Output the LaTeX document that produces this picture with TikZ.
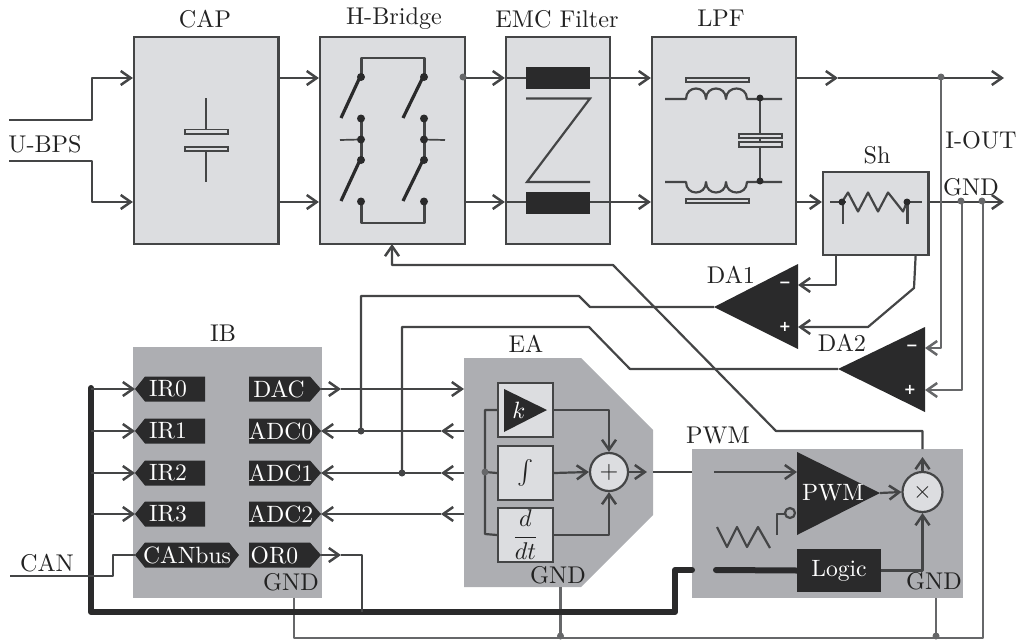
\documentclass[tikz,border=0pt]{standalone}
\usepackage{fontspec}
\newfontfamily\sgnfont{DejaVu Sans}
\usetikzlibrary{arrows.meta,calc}
\definecolor{wirec}{HTML}{444546}
\definecolor{greyc}{HTML}{666769}
\definecolor{lightc}{HTML}{DCDDE0}
\definecolor{midc}{HTML}{ADAEB2}
\definecolor{darkc}{HTML}{2A2A2B}
\definecolor{textc}{HTML}{222222}
\tikzset{
  wire/.style={draw=wirec,line width=2.2pt,line join=round},
  gwire/.style={draw=greyc,line width=2.2pt,line join=round},
  thin wire/.style={draw=wirec,line width=1.7pt,line join=round},
  arr/.style={-{Straight Barb[length=10pt,width=14pt,line width=2.5pt]}},
  bus/.style={draw=darkc,line width=6pt,line join=round,line cap=round},
  lbox/.style={draw=wirec,line width=2.2pt,fill=lightc,inner sep=0pt,rectangle},
  mbox/.style={fill=midc,inner sep=0pt,rectangle},
  blk/.style={fill=darkc,inner sep=0pt,rectangle},
  plate/.style={draw=wirec,line width=1.8pt,fill=lightc,inner sep=0pt,rectangle},
  lab/.style={text=textc,inner sep=0pt,scale=2.42},
  wlab/.style={text=white,inner sep=0pt,scale=2.36},
  sgn/.style={text=white,inner sep=0pt,font=\sgnfont\bfseries,scale=1.45},
  circ/.style={circle,draw=wirec,line width=2.2pt,fill=lightc,minimum size=38pt,inner sep=0pt},
}
\newcommand{\mybox}[6]{\node[#1,minimum width=#4pt-#3pt,minimum height=#6pt-#5pt] (#2) at ({(#3+#4)/2},{(#5+#6)/2}) {};}
\newcommand{\dotat}[1]{\fill[wirec] (#1) circle (3.5);}
\newcommand{\tagR}[5]{% name x1 y text textcentre: points right
  \fill[darkc] (#2,#3-12.5) -- (#2+61,#3-12.5) -- (#2+72,#3) -- (#2+61,#3+12.5) -- (#2,#3+12.5) -- cycle;
  \coordinate (#1) at (#2+72,#3);
  \node[wlab] (#1txt) at (#5,#3) {#4};}
\newcommand{\tagL}[5]{% name x1 y text textcentre: points left
  \fill[darkc] (#2+70,#3-12.5) -- (#2+10,#3-12.5) -- (#2,#3) -- (#2+10,#3+12.5) -- (#2+70,#3+12.5) -- cycle;
  \coordinate (#1) at (#2,#3);
  \node[wlab] (#1txt) at (#5,#3) {#4};}
\begin{document}
\begin{tikzpicture}[x=1pt,y=-1pt]
\useasboundingbox (0,0) rectangle (1023,640);
% coordinates of the power rails
\coordinate (T) at (0,78); \coordinate (B) at (0,202);
% ---- boxes
\mybox{lbox}{cap}{134}{278.5}{37}{244}
\mybox{lbox}{hb}{320}{465}{37}{244}
\mybox{lbox}{emc}{506}{610}{37}{244}
\mybox{lbox}{lpf}{652}{796}{37}{244}
\mybox{lbox}{sh}{823}{928.5}{172}{255}
\mybox{mbox}{ib}{133}{321.5}{347}{598}
\mybox{mbox}{pwm}{692}{963}{449}{598}
\fill[midc] (464,358) -- (581,358) -- (653,430) -- (653,515) -- (581,587) -- (464,587) -- cycle;
\coordinate (eaW) at (464,472); \coordinate (eaE) at (653,472); \coordinate (eaS) at (560.5,587);
% ---- titles
\node[lab] (tCAP) at (205,19) {CAP};
\node[lab] (tHB) at (394,19) {H-Bridge};
\node[lab] (tEMC) at (557,19) {EMC Filter};
\node[lab] (tLPF) at (721,18) {LPF};
\node[lab] (tUBPS) at (45,144) {U-BPS};
\node[lab] (tIOUT) at (981,140) {I-OUT};
\node[lab] (tGND) at (971,187) {GND};
\node[lab] (tSh) at (877,155) {Sh};
\node[lab] (tDA1) at (731,275) {DA1};
\node[lab] (tDA2) at (842,343) {DA2};
\node[lab] (tIB) at (223,333) {IB};
\node[lab] (tEA) at (526,344) {EA};
\node[lab] (tPWM) at (718,435) {PWM};
\node[lab] (tCAN) at (47,563) {CAN};
\node[lab] (gIB) at (291,582) {GND};
\node[lab] (gEA) at (558,575) {GND};
\node[lab] (gPWM) at (934,581) {GND};
% ---- input wires
\coordinate (uA) at (9,120); \coordinate (uB) at (9,161);
\draw[wire,arr] (uA) -- (92,120) -- (92,78) -- (cap.west |- T);
\draw[wire,arr] (uB) -- (92,161) -- (92,202) -- (cap.west |- B);
\draw[wire,arr] (cap.east |- T) -- (hb.west |- T);
\draw[wire,arr] (cap.east |- B) -- (hb.west |- B);
\draw[wire,arr] (hb.east |- T) -- (emc.west |- T);
\draw[wire,arr] (hb.east |- B) -- (emc.west |- B);
\fill[greyc] (463,77) circle (3.5);
\draw[wire,arr] (emc.west |- T) -- (lpf.west |- T);
\draw[wire,arr] (emc.west |- B) -- (lpf.west |- B);
\coordinate (m1) at (838,78); \coordinate (endT) at (1004,78); \coordinate (endB) at (1004,202);
\draw[wire,arr] (lpf.east |- T) -- (m1);
\draw[wire,arr] (m1) -- (endT);
\draw[wire,arr] (lpf.east |- B) -- (sh.west |- B);
\draw[wire,arr] (sh.east |- B) -- (endB);
% ---- CAP symbol
\draw[wire] (206,98) -- (206,130); \draw[wire] (206,150) -- (206,182);
\mybox{plate}{capa}{185}{228}{129.5}{134}
\mybox{plate}{capb}{185}{228}{147}{151}
% ---- H bridge
\coordinate (h1) at (360,77); \coordinate (h2) at (423,77);
\coordinate (h3) at (360,118.5); \coordinate (h4) at (423,118.5);
\coordinate (h5) at (360,139.5); \coordinate (h6) at (423,139.5);
\coordinate (h7) at (360,160); \coordinate (h8) at (423,160);
\coordinate (h9) at (360,201.5); \coordinate (h10) at (423,201.5);
\draw[thin wire,line width=2.2pt] (361.5,77) -- (361.5,58) -- (424.5,58) -- (424.5,77);
\draw[thin wire,line width=2.2pt] (361.5,201.5) -- (361.5,223) -- (424.5,223) -- (424.5,201.5);
\draw[thin wire,line width=2.6pt] (361.5,118.5) -- (361.5,160);
\draw[thin wire,line width=2.6pt] (424.5,118.5) -- (424.5,160);
\draw[draw=darkc,line width=3.2pt] (h1) -- (341,118);
\draw[draw=darkc,line width=3.2pt] (h2) -- (403,118);
\draw[draw=darkc,line width=3.2pt] (h7) -- (341,201);
\draw[draw=darkc,line width=3.2pt] (h8) -- (403,201);
\draw[thin wire] (340,140) -- (h5);
\draw[thin wire] (h6) -- (445,140);
\foreach \c in {h1,h2,h3,h4,h5,h6,h7,h8,h9,h10}{\fill[darkc] ($(\c)+(1,0)$) circle (4);}
% ---- EMC
\mybox{blk}{emcA}{526}{590}{67}{89}
\mybox{blk}{emcB}{526}{590}{192}{214}
\draw[wire,line join=miter] (526,98.5) -- (590,98.5) -- (527,182) -- (590,182);
% ---- LPF
\mybox{plate}{lpA}{686}{749}{78}{82}
\mybox{plate}{lpB}{686}{749}{199}{203}
\draw[wire] (665,99) -- (686,99)
  .. controls (686,85) and (706,85) .. (706,99)
  .. controls (706,85) and (726,85) .. (726,99)
  .. controls (726,85) and (747,85) .. (747,99) -- (782,99);
\draw[wire] (665,182) -- (686,182)
  .. controls (686,196) and (706,196) .. (706,182)
  .. controls (706,196) and (726,196) .. (726,182)
  .. controls (726,196) and (747,196) .. (747,182) -- (782,182);
\draw[wire] (760,98) -- (760,182);
\mybox{plate}{lpC}{739}{782}{134}{138}
\mybox{plate}{lpD}{739}{782}{142}{147}
\fill[darkc] (760,98) circle (3.5); \fill[darkc] (760,181) circle (3.5);
% ---- Shunt
\draw[wire,line width=1.8pt] (830,202) -- (922,202);
\fill[lightc] (846,190) rectangle (905,214);
\draw[wire] (842,202) -- (848,192.5) -- (858,211.5) -- (868,192.5) -- (878,211.5) -- (888,192.5) -- (903,211.5) -- (907,202);
\draw[wire] (843,202) -- (843,224); \draw[wire] (907.5,202) -- (907.5,224);
\fill[darkc] (842,202) circle (3.5); \fill[darkc] (907,202) circle (3.5);
% ---- Amplifiers
\coordinate (da1tip) at (714,307); \coordinate (da1m) at (798,285); \coordinate (da1p) at (798,327);
\coordinate (da2tip) at (838,369); \coordinate (da2m) at (925,348); \coordinate (da2p) at (925,390);
\fill[darkc] (da1tip) -- (798,264) -- (798,349) -- cycle;
\fill[darkc] (da2tip) -- (925,327) -- (925,412) -- cycle;
\node[sgn] (d1m) at (785,285) {−};
\node[sgn] (d1p) at (785,327) {+};
\node[sgn] (d2m) at (912,348) {−};
\node[sgn] (d2p) at (910,390) {+};
\draw[wire,arr] ($(sh.south west)+(14,0)$) |- (da1m);
\draw[wire,arr] ($(sh.south east)+(-14,0)$) -- (914,288) -- (868,327) -- (da1p);
\draw[wire] (da1tip) -- (590,307) -- (579,296) -- (361,296) -- (361,431);
\draw[wire] (da2tip) -- (630,369) -- (589,327) -- (402,327) -- (402,473);
\draw[gwire,arr] (941,78) -- (941,348) -- (da2m);
\draw[gwire,arr] (962,202) -- (962,390) -- (da2p);
\draw[gwire] (983,202) -- (983,638) -- (294,638) -- (294,598);
\draw[gwire] (eaS) -- (560.5,638);
\draw[gwire] (936,598) -- (936,638);
\fill[greyc] (941,77) circle (3.5); \fill[greyc] (961,201) circle (3.5); \fill[greyc] (982,201) circle (3.5);
\fill[greyc] (560.5,636) circle (3.5); \fill[greyc] (936,636) circle (3.5);
% ---- IB tags
\tagL{irA}{135}{389}{IR0}{168}
\tagL{irB}{135}{431}{IR1}{168}
\tagL{irC}{135}{473}{IR2}{168}
\tagL{irD}{135}{514}{IR3}{168}
\tagR{dac}{249}{389}{DAC}{279}
\tagR{adA}{249}{431}{ADC0}{281}
\tagR{adB}{249}{473}{ADC1}{281}
\tagR{adC}{249}{514}{ADC2}{281}
\tagR{orz}{249}{555}{OR0}{274.5}
\fill[darkc] (135,555) -- (145,542.5) -- (229,542.5) -- (239,555) -- (229,567.5) -- (145,567.5) -- cycle;
\coordinate (canT) at (135,555);
\node[wlab] (canbus) at (187,555) {CANbus};
% ---- bus and IB wires
\coordinate (bt) at (91,388); \coordinate (bc) at (91,612);
\draw[bus] (bt) -- (bc) -- (675,612) -- (675,570) -- (692,570);
\foreach \c/\y in {irA/389,irB/431,irC/473,irD/514}{\draw[wire,arr] (91,\y) -- (\c);}
\coordinate (canL) at (10,576);
\draw[wire] (canL) -- (113,576) -- (113,555) -- (canT);
\coordinate (dm) at (341,389); \coordinate (om) at (341,555);
\draw[wire,arr] (dac) -- (dm);
\draw[wire,arr] (dm) -- (eaW |- dm);
\draw[wire,arr] (orz) -- (om);
\draw[wire] (om) -- (362,555) -- (362,612);
\foreach \c/\y in {adA/431,adB/473,adC/514}{
  \draw[wire,arr] (464,\y) -- (441,\y);
  \draw[wire,arr] (441,\y) -- (\c);
}
\dotat{361,431} \dotat{402,473}
% ---- EA inner
\mybox{lbox}{kb}{498}{553}{383}{437}
\mybox{lbox}{ib2}{498}{553}{446}{500}
\mybox{lbox}{db}{498}{553}{508}{562}
\node[circ] (plus) at (609,472) {};
\node[lab] (plustxt) at (609,472) {$+$};
\fill[darkc] (504,389) -- (547,410) -- (504,432) -- cycle;
\node[wlab] (ktxt) at (519,410) {$k$};
\node[lab] (itxt) at (525.5,473) {$\int$};
\node[lab] (dtxt) at (525.5,535) {$\displaystyle\frac{d}{dt}$};
\draw[wire] (kb.west) -- (485,410) -- (485,534) -- (db.west);
\draw[wire] (485,472) -- (ib2.west);
\fill[greyc] (485,472) circle (3.5);
\draw[wire,arr] (ib2.east) -- (plus.west);
\draw[wire,arr] (kb.east) -| (plus.north);
\draw[wire,arr] (db.east) -| (plus.south);
\coordinate (pout) at (647,472);
\draw[wire,arr] (plus.east) -- (pout);
\draw[wire] (eaE) -- (pwm.west |- eaE);
% ---- PWM inner
\fill[darkc] (797,452) -- (880,493) -- (797,535) -- cycle;
\coordinate (ptip) at (880,493); \coordinate (pin) at (797,472); \coordinate (pst) at (714,472);
\node[wlab] (ptxt) at (833,493) {PWM};
\node[blk,minimum width=84pt,minimum height=43pt] (logic) at (839,570.5) {};
\node[wlab] (logictxt) at (839,570.5) {Logic};
\node[circ,minimum size=40pt] (mul) at (922.5,492) {};
\node[lab] (multxt) at (922.5,492) {$\times$};
\draw[wire,arr] (pst) -- (pin);
\draw[wire,arr] (ptip) -- (mul.west);
\draw[wire,arr] (logic.east) -| (mul.south);
\coordinate (mtop) at (922.5,457);
\draw[wire,arr] (mul.north) -- (mtop);
\coordinate (hbin) at (392,244);
\draw[wire,arr] (922.5,449) -- (922.5,431) -- (776,431) -- (613,265) -- (392,265) -- (hbin);
\coordinate (lgst) at (716,570);
\draw[bus] (lgst) -- (logic.west);
\draw[wire] (717,527) -- (727,547) -- (737,527) -- (747,547) -- (758,527) -- (770,548);
\draw[wire] (777,535) -- (777,514) -- (785,514);
\draw[wire,fill=midc] (790,513) circle (5);
\end{tikzpicture}
\end{document}
